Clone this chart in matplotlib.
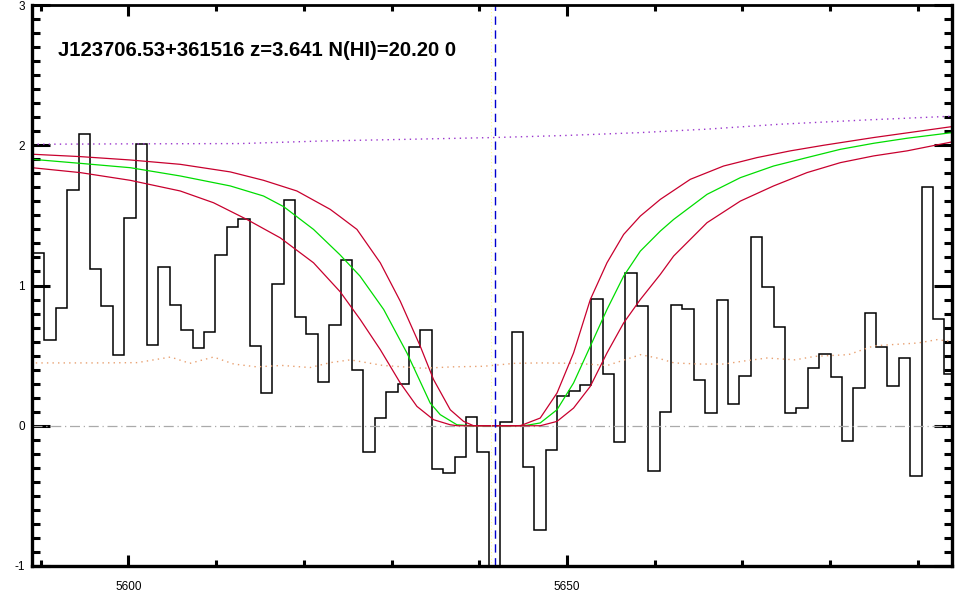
import numpy as np
import matplotlib
matplotlib.use("Agg")
import matplotlib.pyplot as plt
from matplotlib.ticker import MultipleLocator, FormatStrFormatter

# spectrum: flux per pixel, uniform wavelength grid
wave0 = 5589.77
dwave = 1.299
flux = [1.233, 0.612, 0.840, 1.679, 2.079, 1.119, 0.855, 0.505, 1.479, 2.010,
        0.576, 1.129, 0.864, 0.686, 0.555, 0.671, 1.219, 1.414, 1.471, 0.569,
        0.233, 1.014, 1.607, 0.776, 0.655, 0.312, 0.719, 1.183, 0.400, -0.188,
        0.055, 0.240, 0.298, 0.562, 0.683, -0.310, -0.338, -0.224, 0.064, -0.188,
        -1.5, 0.026, 0.669, -0.295, -0.743, -0.174, 0.212, 0.250, 0.290, 0.905,
        0.369, -0.117, 1.088, 0.855, -0.321, 0.098, 0.862, 0.833, 0.329, 0.090,
        0.898, 0.155, 0.355, 1.348, 0.990, 0.705, 0.090, 0.126, 0.414, 0.512,
        0.350, -0.110, 0.271, 0.805, 0.562, 0.283, 0.483, -0.360, 1.705, 0.762,
        0.371]

# continuum (purple dotted)
cont_w = [5589.0, 5600.0, 5612.8, 5621.9, 5630.0, 5641.7, 5650.0, 5658.3, 5666.0, 5674.3, 5684.0, 5693.9]
cont_f = [2.007, 2.010, 2.012, 2.030, 2.040, 2.055, 2.070, 2.090, 2.115, 2.150, 2.180, 2.207]

# error array (orange dotted)
err_w = [5588.8, 5596.4, 5601.0, 5604.8, 5607.0, 5609.7, 5612.0, 5614.6, 5617.5, 5620.7,
         5623.0, 5625.3, 5629.0, 5633.6, 5637.0, 5640.5, 5644.0, 5647.0, 5651.0, 5654.6,
         5658.4, 5660.5, 5662.2, 5665.0, 5667.9, 5670.0, 5672.8, 5676.0, 5678.3, 5682.1,
         5685.0, 5687.2, 5690.0, 5692.2, 5693.9]
err_f = [0.448, 0.448, 0.450, 0.490, 0.445, 0.490, 0.440, 0.420, 0.430, 0.415,
         0.450, 0.470, 0.430, 0.410, 0.420, 0.424, 0.445, 0.448, 0.445, 0.430,
         0.507, 0.480, 0.448, 0.440, 0.440, 0.460, 0.483, 0.470, 0.495, 0.507,
         0.570, 0.579, 0.590, 0.614, 0.600]

# best-fit DLA profile (green)
fit_w = [5589.0, 5594.5, 5600.2, 5605.9, 5611.6, 5615.4, 5617.7, 5621.1, 5624.1, 5626.4,
         5629.1, 5631.75, 5634.4, 5635.55, 5637.45, 5639.0, 5644.0, 5645.4, 5646.95, 5648.86,
         5650.75, 5652.66, 5654.56, 5656.46, 5658.36, 5660.64, 5662.16, 5665.97, 5669.77, 5673.56,
         5677.37, 5681.17, 5684.97, 5688.78, 5693.9]
fit_f = [1.900, 1.871, 1.840, 1.781, 1.710, 1.638, 1.562, 1.400, 1.220, 1.067,
         0.829, 0.519, 0.162, 0.079, 0.007, 0.0, 0.0, 0.003, 0.020, 0.114,
         0.305, 0.567, 0.829, 1.067, 1.245, 1.388, 1.471, 1.650, 1.769, 1.852,
         1.912, 1.971, 2.014, 2.050, 2.090]

# lower N(HI) bound (red, narrower)
lo_w = [5589.0, 5594.5, 5600.2, 5605.9, 5611.6, 5615.4, 5619.2, 5623.0, 5624.14, 5626.05,
        5628.71, 5630.99, 5633.27, 5634.79, 5636.69, 5638.21, 5639.35, 5644.67, 5646.95, 5648.86,
        5650.75, 5652.66, 5654.56, 5656.46, 5658.36, 5660.64, 5664.06, 5667.86, 5671.67, 5675.47,
        5679.27, 5684.97, 5693.91]
lo_f = [1.936, 1.919, 1.895, 1.864, 1.810, 1.750, 1.674, 1.543, 1.490, 1.400,
        1.162, 0.888, 0.567, 0.329, 0.114, 0.031, 0.0, 0.0, 0.055, 0.233,
        0.519, 0.900, 1.162, 1.364, 1.495, 1.614, 1.757, 1.852, 1.912, 1.960,
        2.000, 2.055, 2.133]

# upper N(HI) bound (red, wider)
hi_w = [5589.0, 5594.5, 5600.2, 5605.9, 5609.7, 5613.5, 5617.3, 5621.1, 5624.14, 5626.43,
        5628.71, 5630.99, 5632.89, 5634.79, 5636.69, 5637.5, 5646.95, 5648.86, 5650.75, 5652.66,
        5654.56, 5656.46, 5658.36, 5660.64, 5662.16, 5665.97, 5669.77, 5673.56, 5677.37, 5681.17,
        5684.97, 5688.78, 5693.91]
hi_f = [1.840, 1.805, 1.750, 1.674, 1.590, 1.471, 1.340, 1.162, 0.955, 0.757,
        0.543, 0.305, 0.138, 0.043, 0.007, 0.0, 0.0, 0.031, 0.126, 0.281,
        0.519, 0.733, 0.900, 1.079, 1.210, 1.448, 1.602, 1.710, 1.805, 1.876,
        1.924, 1.960, 2.024]

lya_obs = 5641.75
title = "J123706.53+361516 z=3.641 N(HI)=20.20 0"

plt.rcParams['font.family'] = ['Liberation Sans', 'DejaVu Sans']

fig = plt.figure(figsize=(9.6, 6.0), dpi=100)
ax = fig.add_axes([32 / 960, 1 - 566 / 600, 920 / 960, 561 / 600])

edges = wave0 - dwave / 2 + dwave * np.arange(len(flux) + 1)
ax.stairs(flux, edges, baseline=None, color="black", lw=1.1)

ax.axhline(0, color="#aaaaaa", lw=0.9, ls=(0, (8, 3, 1, 3)))
ax.plot(cont_w, cont_f, color="#9933cc", lw=1.0, ls=(0, (1, 3)))
ax.plot(err_w, err_f, color="#e8a070", lw=1.0, ls=(0, (1, 3)))
ax.plot(fit_w, fit_f, color="#00dd00", lw=0.9)
ax.plot(lo_w, lo_f, color="#c8002e", lw=0.9)
ax.plot(hi_w, hi_f, color="#c8002e", lw=0.9)
ax.axvline(lya_obs - 0.4, color="#ffff99", lw=0.8, ls=(0, (1, 2)))
ax.axvline(lya_obs, color="#0000cc", lw=1.0, ls=(0, (6, 4)))

ax.set_xlim(5589.0, 5693.9)
ax.set_ylim(-1, 3)

ax.xaxis.set_major_locator(MultipleLocator(50))
ax.xaxis.set_minor_locator(MultipleLocator(10))
ax.yaxis.set_major_locator(MultipleLocator(1))
ax.yaxis.set_minor_locator(MultipleLocator(0.1))

ax.tick_params(axis="x", which="major", direction="in", length=8, width=2.2,
               top=True, bottom=True, labelsize=8.5, pad=11)
ax.tick_params(axis="x", which="minor", direction="in", length=4, width=2.2,
               top=True, bottom=True)
ax.tick_params(axis="y", which="major", direction="in", length=13, width=2.2,
               left=True, right=True, labelsize=8.5, pad=5)
ax.tick_params(axis="y", which="minor", direction="in", length=6, width=2.2,
               left=True, right=True)
ax.xaxis.set_major_formatter(FormatStrFormatter("%d"))
ax.yaxis.set_major_formatter(FormatStrFormatter("%d"))

for side in ["left", "bottom", "right"]:
    ax.spines[side].set_linewidth(2.4)
ax.spines["top"].set_linewidth(2.0)

fig.text(58 / 960, 1 - 50 / 600, title, fontsize=14.6, fontweight="bold",
         va="center", ha="left")

fig.savefig("out.png", dpi=100)
